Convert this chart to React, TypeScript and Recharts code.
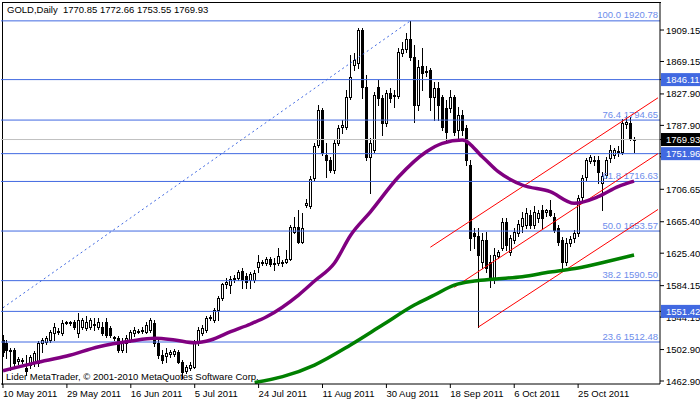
import React from "react";
import { ComposedChart, Bar, Line, XAxis, YAxis, ReferenceLine } from "recharts";

const FONT = "Liberation Sans, Arial, sans-serif";

// GOLD daily bars from 10 May 2011: [open, high, low, close]
const ohlc: [number, number, number, number][] = [
  [1515.0, 1521.4, 1494.7, 1499.7], [1511.2, 1515.0, 1492.1, 1502.3], [1501.0, 1504.8, 1476.9, 1502.3],
  [1502.3, 1504.8, 1481.9, 1485.8], [1488.3, 1493.4, 1484.5, 1490.8], [1489.6, 1492.1, 1485.8, 1488.3],
  [1479.4, 1495.9, 1470.5, 1475.6], [1483.2, 1495.9, 1479.4, 1493.4], [1485.8, 1501.0, 1481.9, 1498.5],
  [1485.8, 1513.7, 1481.9, 1511.2], [1511.2, 1517.6, 1499.7, 1515.0], [1512.5, 1520.1, 1509.9, 1517.6],
  [1515.0, 1527.7, 1512.5, 1525.2], [1523.9, 1536.6, 1515.0, 1531.5], [1526.4, 1530.3, 1522.6, 1525.2],
  [1523.9, 1540.4, 1521.4, 1536.6], [1536.6, 1539.2, 1535.4, 1537.9], [1537.9, 1539.2, 1534.1, 1536.6],
  [1537.9, 1540.4, 1529.0, 1531.5], [1523.9, 1549.3, 1518.8, 1540.4], [1531.5, 1543.0, 1529.0, 1540.4],
  [1530.3, 1545.5, 1527.7, 1537.9], [1531.5, 1543.0, 1529.0, 1540.4], [1534.1, 1543.0, 1527.7, 1535.4],
  [1531.5, 1543.0, 1529.0, 1537.9], [1531.5, 1537.9, 1521.4, 1523.9], [1537.9, 1543.0, 1518.8, 1521.4],
  [1530.3, 1532.8, 1518.8, 1521.4], [1518.8, 1520.1, 1515.0, 1517.6], [1517.6, 1520.1, 1499.7, 1502.3],
  [1502.3, 1517.6, 1499.7, 1512.5], [1511.2, 1521.4, 1499.7, 1517.6], [1515.0, 1527.7, 1512.5, 1525.2],
  [1523.9, 1531.5, 1520.1, 1527.7], [1526.4, 1529.0, 1523.9, 1525.2], [1526.4, 1531.5, 1523.9, 1527.7],
  [1525.2, 1537.9, 1523.9, 1534.1], [1527.7, 1543.0, 1525.2, 1540.4], [1536.6, 1540.4, 1507.4, 1511.2],
  [1511.2, 1515.0, 1492.1, 1495.9], [1495.9, 1502.3, 1485.8, 1489.6], [1494.7, 1504.8, 1487.0, 1498.5],
  [1497.2, 1502.3, 1493.4, 1499.7], [1497.2, 1503.6, 1494.7, 1501.0], [1499.7, 1502.3, 1485.8, 1487.0],
  [1487.0, 1489.6, 1466.7, 1474.3], [1475.6, 1483.2, 1473.1, 1480.7], [1479.4, 1487.0, 1476.9, 1483.2],
  [1480.7, 1515.0, 1479.4, 1511.2], [1511.2, 1531.5, 1508.6, 1527.7], [1523.9, 1534.1, 1521.4, 1530.3],
  [1527.7, 1545.5, 1525.2, 1543.0], [1543.0, 1546.8, 1540.4, 1544.3], [1540.4, 1555.7, 1537.9, 1553.2],
  [1553.2, 1571.0, 1540.4, 1568.4], [1568.4, 1587.5, 1565.9, 1586.2], [1586.2, 1593.8, 1581.2, 1588.8],
  [1585.0, 1596.4, 1574.8, 1592.6], [1592.6, 1597.7, 1588.8, 1593.8], [1593.8, 1604.0, 1591.3, 1601.5],
  [1602.8, 1606.6, 1581.2, 1591.3], [1596.4, 1600.2, 1581.2, 1588.8], [1591.3, 1601.5, 1581.2, 1598.9],
  [1591.3, 1604.0, 1588.8, 1600.2], [1607.8, 1623.1, 1601.5, 1614.2], [1612.9, 1616.7, 1610.4, 1614.2],
  [1612.9, 1620.5, 1610.4, 1618.0], [1618.0, 1620.5, 1609.1, 1611.7], [1612.9, 1619.3, 1604.0, 1611.7],
  [1612.9, 1632.0, 1610.4, 1621.8], [1614.2, 1616.7, 1609.1, 1612.9], [1614.2, 1629.4, 1612.9, 1618.0],
  [1618.0, 1661.2, 1616.7, 1658.7], [1652.3, 1671.4, 1651.1, 1658.7], [1658.7, 1680.3, 1638.4, 1639.6],
  [1639.6, 1676.5, 1638.4, 1657.4], [1686.7, 1694.3, 1684.1, 1689.2], [1685.4, 1723.5, 1682.8, 1719.7],
  [1721.0, 1765.5, 1718.4, 1761.7], [1762.9, 1813.8, 1760.4, 1807.4], [1807.4, 1810.0, 1750.2, 1752.8],
  [1750.2, 1765.5, 1722.3, 1743.9], [1743.9, 1747.7, 1728.6, 1731.2], [1731.2, 1769.3, 1727.3, 1765.5],
  [1765.5, 1788.4, 1762.9, 1784.6], [1785.8, 1794.7, 1778.2, 1788.4], [1785.8, 1832.9, 1783.3, 1824.0],
  [1824.0, 1877.4, 1821.4, 1849.4], [1864.7, 1879.9, 1858.3, 1871.0], [1867.2, 1911.7, 1860.8, 1909.2],
  [1909.2, 1911.7, 1822.7, 1836.7], [1836.7, 1851.9, 1743.9, 1747.7], [1747.7, 1771.8, 1701.9, 1765.5],
  [1756.6, 1830.3, 1754.0, 1826.5], [1836.7, 1845.6, 1813.8, 1822.7], [1822.7, 1826.5, 1775.7, 1790.9],
  [1790.9, 1832.9, 1787.1, 1829.1], [1829.1, 1835.4, 1817.6, 1822.7], [1825.2, 1832.9, 1811.3, 1826.5],
  [1825.2, 1886.3, 1822.7, 1881.2], [1879.9, 1893.9, 1876.1, 1885.0], [1885.0, 1905.3, 1881.2, 1897.7],
  [1897.7, 1920.78, 1871.0, 1874.8], [1874.8, 1890.1, 1792.2, 1813.8], [1813.8, 1871.0, 1807.4, 1862.1],
  [1863.4, 1886.3, 1832.9, 1854.5], [1857.0, 1863.4, 1850.7, 1855.8], [1858.3, 1860.8, 1807.4, 1824.0],
  [1824.0, 1843.0, 1794.7, 1835.4], [1835.4, 1843.0, 1794.7, 1813.8], [1824.0, 1826.5, 1782.0, 1785.8],
  [1810.0, 1820.2, 1766.8, 1779.5], [1810.0, 1832.9, 1804.9, 1824.0], [1824.0, 1826.5, 1775.7, 1779.5],
  [1782.0, 1811.3, 1769.3, 1801.1], [1801.1, 1807.4, 1775.7, 1782.0], [1784.6, 1788.4, 1737.5, 1743.9],
  [1737.5, 1743.9, 1629.4, 1644.7], [1651.1, 1657.4, 1632.0, 1647.2], [1647.2, 1657.4, 1531.5, 1623.1],
  [1614.2, 1651.1, 1606.6, 1642.2], [1642.2, 1652.3, 1601.5, 1606.6], [1614.2, 1623.1, 1582.4, 1591.3],
  [1591.3, 1632.0, 1587.5, 1623.1], [1621.8, 1629.4, 1619.3, 1626.9], [1632.0, 1670.1, 1629.4, 1665.0],
  [1665.0, 1670.1, 1629.4, 1635.8], [1626.9, 1648.5, 1623.1, 1644.7], [1642.2, 1657.4, 1638.4, 1652.3],
  [1651.1, 1667.6, 1647.2, 1662.5], [1660.0, 1677.8, 1652.3, 1670.1], [1661.2, 1682.8, 1657.4, 1676.5],
  [1673.9, 1680.3, 1657.4, 1661.2], [1661.2, 1685.4, 1657.4, 1677.8], [1670.1, 1680.3, 1665.0, 1676.5],
  [1680.3, 1686.7, 1657.4, 1670.1], [1677.8, 1681.6, 1672.7, 1680.3], [1680.3, 1693.0, 1672.7, 1673.9],
  [1671.4, 1676.5, 1652.3, 1654.9], [1657.4, 1661.2, 1635.8, 1639.6], [1642.2, 1646.0, 1604.0, 1614.2],
  [1614.2, 1644.7, 1610.4, 1638.4], [1638.4, 1647.2, 1634.5, 1643.4], [1644.7, 1654.9, 1639.6, 1651.1],
  [1651.1, 1699.4, 1647.2, 1695.6], [1696.8, 1724.8, 1693.0, 1721.0], [1722.3, 1746.4, 1718.4, 1743.9],
  [1742.6, 1750.2, 1740.1, 1747.7], [1743.9, 1749.0, 1737.5, 1742.6], [1743.9, 1749.0, 1714.6, 1728.6],
  [1714.6, 1728.6, 1680.3, 1723.5], [1724.8, 1747.7, 1721.0, 1743.9], [1746.4, 1762.9, 1741.3, 1756.6],
  [1750.2, 1759.1, 1746.4, 1756.6], [1754.0, 1761.7, 1749.0, 1755.3], [1754.0, 1796.0, 1751.5, 1790.9],
  [1789.6, 1799.8, 1784.6, 1792.2], [1790.9, 1798.5, 1769.3, 1771.8], [1770.85, 1772.66, 1753.55, 1769.93],
];

// moving averages as [bar, value]
const maPurple: [number, number][] = [
  [0, 1476], [8, 1486], [16, 1494.7], [24, 1506.5], [32, 1513.7], [38, 1517.2], [43, 1515], [48, 1511.6],
  [52, 1515], [57, 1525.6], [62, 1535.4], [66, 1544.6], [74, 1572.2], [78, 1590], [83, 1612.9], [87, 1648],
  [92, 1678], [99, 1722.2], [106, 1754.4], [110, 1765.1], [115, 1769.3], [120, 1748.1], [124, 1729],
  [130, 1712.1], [137, 1703.6], [143, 1688.8], [149, 1697.2], [154, 1710], [158, 1717],
];
const maGreen: [number, number][] = [
  [63, 1461], [70, 1468.4], [78, 1483.2], [87, 1508.7], [95, 1534.1], [103, 1559.5], [108, 1572.2],
  [113, 1584.9], [118, 1590], [123, 1592.6], [130, 1595.5], [137, 1601.5], [144, 1606.6], [151, 1614.6],
  [158, 1623.1],
];

// fibo trend line and equidistant channel, [bar, price]
const fibTrend: [number, number][] = [[0, 1556], [102, 1920.78]];
const channelUpper: [number, number][] = [[107, 1633], [164, 1823]];
const channelMid: [number, number][] = [[113, 1582], [164, 1752]];
const channelLow: [number, number][] = [[119, 1531.5], [164, 1681]];

const fibNames = ["100.0", "76.4", "61.8", "50.0", "38.2", "23.6"];
const fibPrices = [1920.78, 1794.65, 1716.63, 1653.57, 1590.5, 1512.48];
const levelPrices = [1846.11, 1751.96, 1551.42];
const lastPrice = 1769.93;

const priceTicks = [1909.15, 1869.15, 1827.9, 1787.9, 1747.9, 1706.65, 1665.4, 1625.4, 1584.15, 1544.15, 1502.9, 1462.9];
const dateTicks = [0, 16, 32, 48, 64, 80, 96, 112, 128, 144];
const dateLabels = [
  "10 May 2011", "29 May 2011", "16 Jun 2011", "5 Jul 2011", "24 Jul 2011",
  "11 Aug 2011", "30 Aug 2011", "18 Sep 2011", "6 Oct 2011", "25 Oct 2011",
];

const SLOTS = 165; // bars plus chart shift on the right

const rows: any[] = Array.from({ length: SLOTS }, (_, i) => {
  const row: any = { i };
  const c = ohlc[i];
  if (c) {
    row.o = c[0]; row.h = c[1]; row.l = c[2]; row.c = c[3];
    row.range = [c[2], c[1]];
  }
  return row;
});
const put = (key: string, pts: [number, number][]) => pts.forEach(([i, v]) => (rows[i][key] = v));
put("maP", maPurple);
put("maG", maGreen);
put("trend", fibTrend);
put("chU", channelUpper);
put("chM", channelMid);
put("chL", channelLow);

const BLUE = "#4169E1";

const Candle = (props: any) => {
  const { x, y, width, height, payload } = props;
  if (!payload || payload.o == null) return null;
  const { o, h, l, c } = payload;
  const top = Math.min(y, y + height);
  const span = Math.abs(height);
  const py = (v: number) => top + ((h - v) / (h - l || 1)) * span;
  const px = Math.round(x + width / 2) + 0.5;
  const bTop = Math.round(py(Math.max(o, c))) + 0.5;
  const bBot = Math.round(py(Math.min(o, c))) + 0.5;
  return (
    <g>
      <line x1={px} x2={px} y1={Math.round(top)} y2={Math.round(top + span) + 1} stroke="#000" />
      {bBot - bTop < 1 ? (
        <line x1={px - 1.5} x2={px + 1.5} y1={bTop} y2={bTop} stroke="#000" />
      ) : (
        <rect x={px - 1} y={bTop} width={2} height={bBot - bTop} fill={c >= o ? "#fff" : "#000"} stroke="#000" />
      )}
    </g>
  );
};

const FibText = (props: any) => {
  const vb = props.viewBox;
  if (!vb) return null;
  return (
    <text x={vb.x + vb.width - 2} y={vb.y - 2.5} textAnchor="end" fontSize={9.5} fontFamily={FONT} fill="#6E8DEB">
      {props.text}
    </text>
  );
};

const tagFill = (v: number) => (v === lastPrice ? "#000" : levelPrices.includes(v) ? BLUE : null);

const PriceTick = (props: any) => {
  const { x, y, payload } = props;
  const v = payload.value;
  const fill = tagFill(v);
  return (
    <g>
      {fill && <rect x={x - 5} y={y - 6.5} width={40} height={13} fill={fill} />}
      <text x={x} y={y + 3.5} fontSize={9.5} fontFamily={FONT} fill={fill ? "#fff" : "#000"}>
        {v.toFixed(2)}
      </text>
    </g>
  );
};

const DateTick = (props: any) => {
  const { x, y, payload } = props;
  const k = dateTicks.indexOf(payload.value);
  return (
    <text x={x} y={y + 7} fontSize={9.5} fontFamily={FONT} fill="#000">
      {dateLabels[k]}
    </text>
  );
};

export default function App() {
  return (
    <div style={{ position: "absolute", left: 0, top: 0, width: 700, height: 402, background: "#fff", overflow: "hidden" }}>
      <div style={{ position: "absolute", left: 2, top: 2, width: 658, height: 382, borderLeft: "1px solid #000", borderTop: "1px solid #000" }} />
      <div style={{ position: "absolute", left: 0, top: 0 }}>
        <ComposedChart width={700} height={402} data={rows} margin={{ top: 3, right: 0, bottom: 0, left: 1 }}>
          <XAxis
            dataKey="i"
            type="category"
            ticks={dateTicks}
            interval={0}
            height={18}
            tickSize={4}
            tick={<DateTick />}
            axisLine={{ stroke: "#000" }}
            tickLine={{ stroke: "#000" }}
          />
          <YAxis
            orientation="right"
            type="number"
            domain={[1459.1, 1943.5]}
            allowDataOverflow
            ticks={[...priceTicks, ...levelPrices, lastPrice]}
            interval={0}
            width={40}
            tickSize={4}
            tick={<PriceTick />}
            axisLine={{ stroke: "#000" }}
            tickLine={{ stroke: "#000" }}
          />
          <ReferenceLine y={lastPrice} stroke="#C0C0C0" />
          {levelPrices.map((p) => (
            <ReferenceLine key={p} y={p} stroke={BLUE} />
          ))}
          {fibPrices.map((p, k) => (
            <ReferenceLine key={"f" + k} y={p} stroke={BLUE} label={<FibText text={`${fibNames[k]} ${p.toFixed(2)}`} />} />
          ))}
          <Line dataKey="trend" stroke={BLUE} strokeDasharray="2 3" dot={false} connectNulls isAnimationActive={false} />
          <Line dataKey="chU" stroke="#FF0000" dot={false} connectNulls isAnimationActive={false} />
          <Line dataKey="chM" stroke="#FF0000" dot={false} connectNulls isAnimationActive={false} />
          <Line dataKey="chL" stroke="#FF0000" dot={false} connectNulls isAnimationActive={false} />
          <Bar dataKey="range" barSize={3} shape={(p: any) => <Candle {...p} />} isAnimationActive={false} />
          <Line dataKey="maP" type="monotone" stroke="#800080" strokeWidth={3.5} dot={false} connectNulls isAnimationActive={false} />
          <Line dataKey="maG" type="monotone" stroke="#008000" strokeWidth={3.5} dot={false} connectNulls isAnimationActive={false} />
        </ComposedChart>
      </div>
      <div style={{ position: "absolute", left: 7, top: 4, fontFamily: FONT, fontSize: 9.5, color: "#000", whiteSpace: "pre" }}>
        {"GOLD,Daily  1770.85 1772.66 1753.55 1769.93"}
      </div>
      <div style={{ position: "absolute", left: 6, top: 371, fontFamily: FONT, fontSize: 9.5, color: "#000", whiteSpace: "pre" }}>
        {"Lider MetaTrader, © 2001-2010 MetaQuotes Software Corp."}
      </div>
    </div>
  );
}
